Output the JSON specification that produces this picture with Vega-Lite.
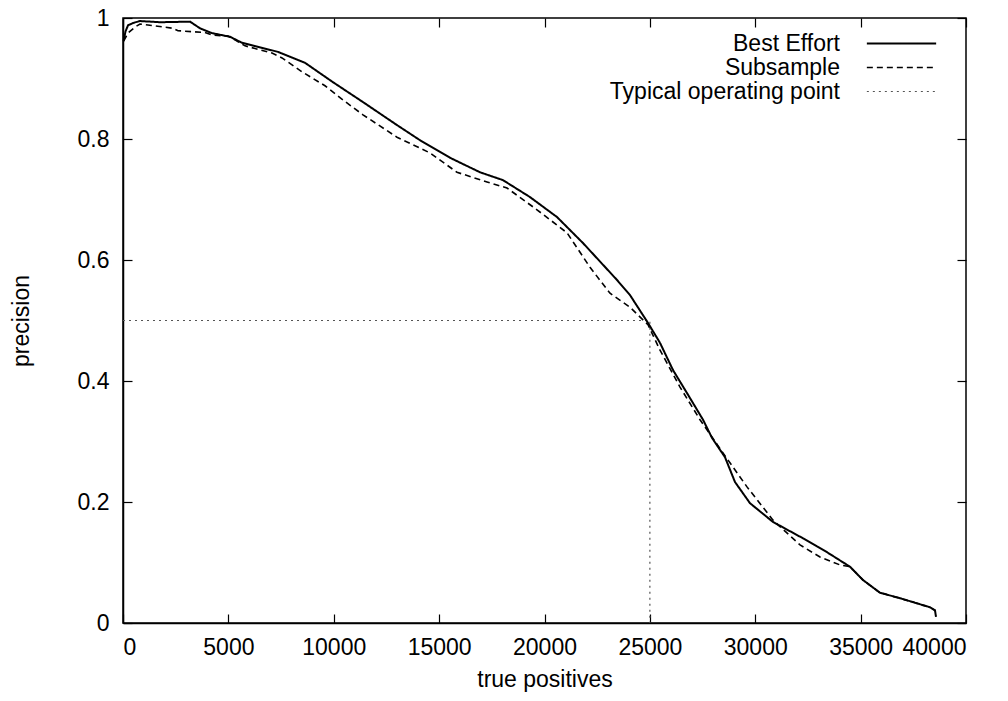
{
  "$schema": "https://vega.github.io/schema/vega-lite/v6.json",
  "width": 843,
  "height": 605,
  "autosize": "none",
  "padding": {"left": 123, "top": 18, "right": 42, "bottom": 78},
  "background": "white",
  "config": {
    "font": "Liberation Sans",
    "view": {"stroke": "black", "strokeWidth": 1.5},
    "axis": {
      "grid": false,
      "domainColor": "black",
      "domainWidth": 1.5,
      "tickColor": "black",
      "tickWidth": 1.2,
      "tickSize": -9,
      "labelFontSize": 23,
      "labelColor": "black",
      "titleFontSize": 23,
      "titleFontWeight": "normal",
      "titleColor": "black"
    },
    "legend": {
      "orient": "none",
      "legendX": 767,
      "legendY": 14,
      "padding": 0,
      "labelFontSize": 23,
      "labelColor": "black",
      "labelAlign": "right",
      "labelOffset": -73,
      "labelLimit": 400,
      "symbolSize": 441,
      "symbolType": "M-3.3,0H3.3",
      "rowPadding": 0
    }
  },
  "datasets": {
    "curves": [
      {"series": "Best Effort", "tp": 30, "precision": 0.962},
      {"series": "Best Effort", "tp": 120, "precision": 0.978},
      {"series": "Best Effort", "tp": 240, "precision": 0.988},
      {"series": "Best Effort", "tp": 500, "precision": 0.992},
      {"series": "Best Effort", "tp": 807, "precision": 0.995},
      {"series": "Best Effort", "tp": 1756, "precision": 0.993},
      {"series": "Best Effort", "tp": 3179, "precision": 0.994},
      {"series": "Best Effort", "tp": 3654, "precision": 0.983},
      {"series": "Best Effort", "tp": 4223, "precision": 0.975},
      {"series": "Best Effort", "tp": 5077, "precision": 0.969},
      {"series": "Best Effort", "tp": 5647, "precision": 0.959},
      {"series": "Best Effort", "tp": 7355, "precision": 0.944},
      {"series": "Best Effort", "tp": 8636, "precision": 0.926},
      {"series": "Best Effort", "tp": 9917, "precision": 0.895},
      {"series": "Best Effort", "tp": 11388, "precision": 0.861},
      {"series": "Best Effort", "tp": 13001, "precision": 0.823},
      {"series": "Best Effort", "tp": 14093, "precision": 0.798},
      {"series": "Best Effort", "tp": 15516, "precision": 0.769},
      {"series": "Best Effort", "tp": 16940, "precision": 0.745},
      {"series": "Best Effort", "tp": 18031, "precision": 0.732},
      {"series": "Best Effort", "tp": 19312, "precision": 0.704},
      {"series": "Best Effort", "tp": 20593, "precision": 0.671},
      {"series": "Best Effort", "tp": 21827, "precision": 0.628},
      {"series": "Best Effort", "tp": 23440, "precision": 0.567},
      {"series": "Best Effort", "tp": 24057, "precision": 0.542},
      {"series": "Best Effort", "tp": 24911, "precision": 0.496},
      {"series": "Best Effort", "tp": 25481, "precision": 0.463},
      {"series": "Best Effort", "tp": 26098, "precision": 0.418},
      {"series": "Best Effort", "tp": 26762, "precision": 0.380},
      {"series": "Best Effort", "tp": 27521, "precision": 0.336},
      {"series": "Best Effort", "tp": 27948, "precision": 0.306},
      {"series": "Best Effort", "tp": 28565, "precision": 0.274},
      {"series": "Best Effort", "tp": 29039, "precision": 0.233},
      {"series": "Best Effort", "tp": 29751, "precision": 0.198},
      {"series": "Best Effort", "tp": 30843, "precision": 0.167},
      {"series": "Best Effort", "tp": 32266, "precision": 0.140},
      {"series": "Best Effort", "tp": 33405, "precision": 0.117},
      {"series": "Best Effort", "tp": 34496, "precision": 0.093},
      {"series": "Best Effort", "tp": 35113, "precision": 0.071},
      {"series": "Best Effort", "tp": 35920, "precision": 0.050},
      {"series": "Best Effort", "tp": 36869, "precision": 0.041},
      {"series": "Best Effort", "tp": 38292, "precision": 0.026},
      {"series": "Best Effort", "tp": 38529, "precision": 0.021},
      {"series": "Best Effort", "tp": 38577, "precision": 0.010},
      {"series": "Subsample", "tp": 30, "precision": 0.962},
      {"series": "Subsample", "tp": 237, "precision": 0.975},
      {"series": "Subsample", "tp": 569, "precision": 0.985},
      {"series": "Subsample", "tp": 807, "precision": 0.990},
      {"series": "Subsample", "tp": 1518, "precision": 0.987},
      {"series": "Subsample", "tp": 2373, "precision": 0.983},
      {"series": "Subsample", "tp": 2610, "precision": 0.979},
      {"series": "Subsample", "tp": 3891, "precision": 0.976},
      {"series": "Subsample", "tp": 4223, "precision": 0.972},
      {"series": "Subsample", "tp": 4982, "precision": 0.970},
      {"series": "Subsample", "tp": 5314, "precision": 0.964},
      {"series": "Subsample", "tp": 5789, "precision": 0.954},
      {"series": "Subsample", "tp": 7070, "precision": 0.942},
      {"series": "Subsample", "tp": 7545, "precision": 0.934},
      {"series": "Subsample", "tp": 8494, "precision": 0.911},
      {"series": "Subsample", "tp": 9585, "precision": 0.888},
      {"series": "Subsample", "tp": 10534, "precision": 0.862},
      {"series": "Subsample", "tp": 11388, "precision": 0.840},
      {"series": "Subsample", "tp": 13001, "precision": 0.803},
      {"series": "Subsample", "tp": 14567, "precision": 0.777},
      {"series": "Subsample", "tp": 15848, "precision": 0.745},
      {"series": "Subsample", "tp": 17272, "precision": 0.729},
      {"series": "Subsample", "tp": 18221, "precision": 0.719},
      {"series": "Subsample", "tp": 19644, "precision": 0.683},
      {"series": "Subsample", "tp": 21068, "precision": 0.645},
      {"series": "Subsample", "tp": 22159, "precision": 0.588},
      {"series": "Subsample", "tp": 23108, "precision": 0.545},
      {"series": "Subsample", "tp": 24057, "precision": 0.522},
      {"series": "Subsample", "tp": 24911, "precision": 0.493},
      {"series": "Subsample", "tp": 25481, "precision": 0.451},
      {"series": "Subsample", "tp": 26430, "precision": 0.390},
      {"series": "Subsample", "tp": 27379, "precision": 0.336},
      {"series": "Subsample", "tp": 28470, "precision": 0.281},
      {"series": "Subsample", "tp": 29609, "precision": 0.225},
      {"series": "Subsample", "tp": 30843, "precision": 0.170},
      {"series": "Subsample", "tp": 32124, "precision": 0.129},
      {"series": "Subsample", "tp": 33073, "precision": 0.109},
      {"series": "Subsample", "tp": 34022, "precision": 0.096},
      {"series": "Subsample", "tp": 34496, "precision": 0.093},
      {"series": "Subsample", "tp": 35113, "precision": 0.071},
      {"series": "Subsample", "tp": 35920, "precision": 0.050},
      {"series": "Subsample", "tp": 36869, "precision": 0.041},
      {"series": "Subsample", "tp": 38292, "precision": 0.026},
      {"series": "Subsample", "tp": 38529, "precision": 0.021},
      {"series": "Subsample", "tp": 38577, "precision": 0.012}
    ],
    "op": [
      {"series": "Typical operating point", "tp": 0, "precision": 0.5, "step": 1},
      {"series": "Typical operating point", "tp": 25000, "precision": 0.5, "step": 2},
      {"series": "Typical operating point", "tp": 25000, "precision": 0, "step": 3}
    ]
  },
  "resolve": {"axis": {"x": "independent", "y": "independent"}},
  "layer": [
    {
      "data": {"name": "op"},
      "mark": {"type": "line"},
      "encoding": {
        "x": {"field": "tp", "type": "quantitative", "scale": {"domain": [0, 40000], "nice": false},
              "axis": {"title": "true positives", "values": [0,5000,10000,15000,20000,25000,30000,35000,40000], "format": "d", "labelPadding": 22, "titlePadding": 9}},
        "y": {"field": "precision", "type": "quantitative", "scale": {"domain": [0, 1], "nice": false},
              "axis": {"title": "precision", "values": [0,0.2,0.4,0.6,0.8,1], "format": "~g", "labelPadding": 23, "titlePadding": 44}},
        "order": {"field": "step", "type": "quantitative"},
        "color": {"field": "series", "type": "nominal", "title": null,
                  "scale": {"domain": ["Best Effort", "Subsample", "Typical operating point"], "range": ["#000000", "#000000", "#555555"]}},
        "strokeDash": {"field": "series", "type": "nominal", "title": null,
                  "scale": {"domain": ["Best Effort", "Subsample", "Typical operating point"], "range": [[1, 0], [6, 4], [2, 4]]}},
        "strokeWidth": {"field": "series", "type": "nominal", "title": null,
                  "scale": {"domain": ["Best Effort", "Subsample", "Typical operating point"], "range": [2, 1.2, 1.2]}}
      }
    },
    {
      "data": {"name": "curves"},
      "mark": {"type": "line"},
      "encoding": {
        "x": {"field": "tp", "type": "quantitative", "axis": null},
        "y": {"field": "precision", "type": "quantitative", "axis": null},
        "color": {"field": "series", "type": "nominal", "title": null},
        "strokeDash": {"field": "series", "type": "nominal", "title": null},
        "strokeWidth": {"field": "series", "type": "nominal", "title": null}
      }
    },
    {
      "data": {"name": "op"},
      "mark": {"type": "point", "opacity": 0},
      "encoding": {
        "x": {"field": "tp", "type": "quantitative",
              "axis": {"orient": "top", "labels": false, "title": null, "domain": false, "values": [0,5000,10000,15000,20000,25000,30000,35000,40000]}},
        "y": {"field": "precision", "type": "quantitative",
              "axis": {"orient": "right", "labels": false, "title": null, "domain": false, "values": [0,0.2,0.4,0.6,0.8,1]}}
      }
    }
  ]
}
